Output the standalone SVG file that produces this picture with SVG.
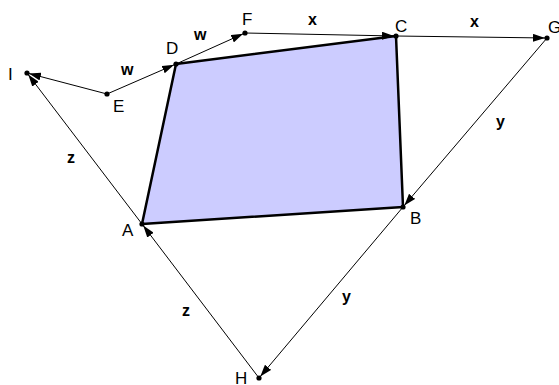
<svg xmlns="http://www.w3.org/2000/svg" width="559" height="385" viewBox="0 0 559 385">
<defs>
<marker id="arr" viewBox="0 0 12 8" refX="14" refY="4" markerWidth="12" markerHeight="8" markerUnits="userSpaceOnUse" orient="auto">
<path d="M0,0 L12,4 L0,8 Z" fill="#000"/>
</marker>
</defs>
<style>
.vec{stroke:#000;stroke-width:1;fill:none;marker-end:url(#arr)}
.pt{fill:#000}
.lbl{font-family:"Liberation Sans",Arial,sans-serif;font-size:17px;fill:#000}
.vl{font-family:"Liberation Sans",Arial,sans-serif;font-size:16px;font-weight:bold;fill:#000}
</style>
<rect width="559" height="385" fill="#fff"/>
<g id="quad">
<polygon points="142,224 403,207 396,36 176,64" fill="#ccccff" stroke="#000" stroke-width="2.5" stroke-linejoin="round"/>
</g>
<g id="connectors">
<line class="vec" x1="107" y1="94" x2="176" y2="64"/>
<line class="vec" x1="176" y1="64" x2="245" y2="33"/>
<line class="vec" x1="245" y1="33" x2="396" y2="36"/>
<line class="vec" x1="396" y1="36" x2="547" y2="38"/>
<line class="vec" x1="547" y1="38" x2="403" y2="207"/>
<line class="vec" x1="403" y1="207" x2="259" y2="378"/>
<line class="vec" x1="259" y1="378" x2="142" y2="224"/>
<line class="vec" x1="142" y1="224" x2="27" y2="73"/>
<line class="vec" x1="107" y1="94" x2="27" y2="73"/>
<text class="vl" x="121" y="75">w</text>
<text class="vl" x="194" y="40">w</text>
<text class="vl" x="308" y="25">x</text>
<text class="vl" x="470" y="27">x</text>
<text class="vl" x="496" y="127">y</text>
<text class="vl" x="342" y="302">y</text>
<text class="vl" x="67" y="163">z</text>
<text class="vl" x="182" y="316">z</text>
</g>
<g id="A"><circle class="pt" cx="142" cy="224" r="2.6"/><text class="lbl" x="122" y="236">A</text></g>
<g id="B"><circle class="pt" cx="403" cy="207" r="2.6"/><text class="lbl" x="410" y="224">B</text></g>
<g id="C"><circle class="pt" cx="396" cy="36" r="2.6"/><text class="lbl" x="395" y="32">C</text></g>
<g id="D"><circle class="pt" cx="176" cy="64" r="2.6"/><text class="lbl" x="166" y="54">D</text></g>
<g id="E"><circle class="pt" cx="107" cy="94" r="2.6"/><text class="lbl" x="113" y="112">E</text></g>
<g id="F"><circle class="pt" cx="245" cy="33" r="2.6"/><text class="lbl" x="242" y="25">F</text></g>
<g id="G"><circle class="pt" cx="547" cy="38" r="2.6"/><text class="lbl" x="548" y="33">G</text></g>
<g id="H"><circle class="pt" cx="259" cy="378" r="2.6"/><text class="lbl" x="235" y="384">H</text></g>
<g id="I"><circle class="pt" cx="27" cy="73" r="2.6"/><text class="lbl" x="8" y="80">I</text></g>
</svg>
